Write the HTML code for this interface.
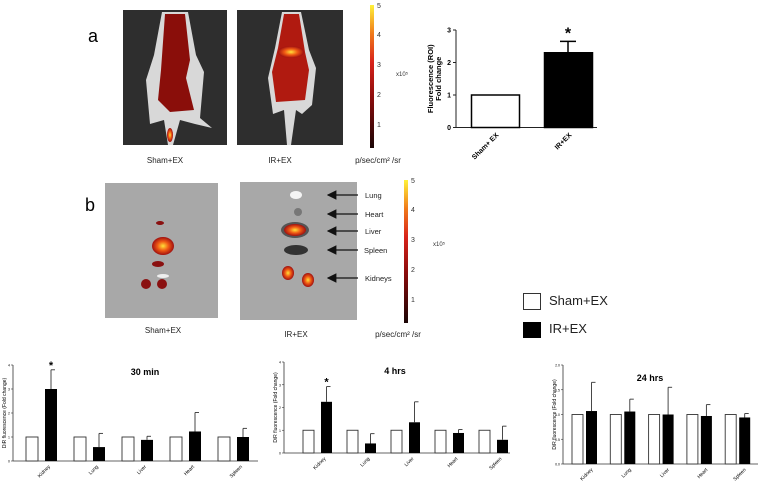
<!DOCTYPE html>
<html><head><meta charset="utf-8"><style>
html,body{margin:0;padding:0;background:#fff;}
svg{display:block;font-family:"Liberation Sans",sans-serif;}
</style></head><body>
<svg id="fig" width="760" height="488" viewBox="0 0 760 488" xmlns="http://www.w3.org/2000/svg">
<defs>
<linearGradient id="cbar" x1="0" y1="1" x2="0" y2="0">
<stop offset="0" stop-color="#1a0505"/><stop offset="0.35" stop-color="#8a0c0c"/><stop offset="0.6" stop-color="#d8231a"/><stop offset="0.8" stop-color="#f07a1a"/><stop offset="1" stop-color="#fff23a"/></linearGradient>
<radialGradient id="hot"><stop offset="0" stop-color="#ffe23a"/><stop offset="0.5" stop-color="#f05a14"/><stop offset="1" stop-color="#a01010"/></radialGradient>
<marker id="ah" markerWidth="8" markerHeight="8" refX="1" refY="4" orient="auto"><path d="M8 0 L0 4 L8 8 Z" fill="#111"/></marker>
</defs>
<text x="88" y="42" font-size="18">a</text>
<text x="85" y="211" font-size="18">b</text>

<g>
<rect x="123" y="10" width="104" height="135" fill="#2e2e2e"/>
<path d="M162 12 L188 12 L196 55 L204 72 L200 118 L212 128 L195 124 L180 120 L173 145 L168 145 L164 120 L150 124 L146 80 L154 55 Z" fill="#d8d8d8"/>
<path d="M165 14 L185 14 L190 60 L186 78 L194 110 L170 112 L158 100 L161 70 Z" fill="#8a0e0a"/>
<ellipse cx="170" cy="135" rx="3" ry="7" fill="url(#hot)"/>
</g>
<g>
<rect x="237" y="10" width="106" height="135" fill="#2e2e2e"/>
<path d="M282 12 L301 12 L309 50 L316 68 L312 105 L302 114 L296 110 L291 145 L287 145 L284 110 L273 114 L268 78 L275 48 Z" fill="#d8d8d8"/>
<path d="M284 14 L299 14 L305 52 L309 70 L305 100 L276 102 L272 72 L278 48 Z" fill="#b01a10"/>
<ellipse cx="291" cy="52" rx="13" ry="6" fill="url(#hot)"/>
</g>
<rect x="370" y="5" width="4" height="143" fill="url(#cbar)"/>
<g font-size="7" fill="#333">
<text x="377" y="8">5</text><text x="377" y="37">4</text><text x="377" y="67">3</text><text x="377" y="97">2</text><text x="377" y="127">1</text>
<text x="396" y="76" font-size="6">x10⁵</text></g>
<g font-size="8" fill="#222" text-anchor="middle">
<text x="165" y="163">Sham+EX</text>
<text x="280" y="163">IR+EX</text>
<text x="378" y="163">p/sec/cm² /sr</text>
</g>

<g>
<rect x="105" y="183" width="113" height="135" fill="#a8a8a8"/>
<ellipse cx="163" cy="246" rx="11" ry="9" fill="url(#hot)"/>
<ellipse cx="160" cy="223" rx="4" ry="2" fill="#8a1010"/>
<ellipse cx="163" cy="276" rx="6" ry="2" fill="#eee"/>
<ellipse cx="146" cy="284" rx="5" ry="5" fill="#8a1010"/>
<ellipse cx="162" cy="284" rx="5" ry="5" fill="#8a1010"/>
<ellipse cx="158" cy="264" rx="6" ry="3" fill="#8a1010"/>
</g>
<g>
<rect x="240" y="182" width="117" height="138" fill="#a8a8a8"/>
<ellipse cx="296" cy="195" rx="6" ry="4" fill="#f4f4f4"/>
<ellipse cx="298" cy="212" rx="4" ry="4" fill="#777"/>
<ellipse cx="295" cy="230" rx="14" ry="8" fill="#555"/>
<ellipse cx="295" cy="230" rx="11" ry="6" fill="url(#hot)"/>
<ellipse cx="296" cy="250" rx="12" ry="5" fill="#333"/>
<ellipse cx="288" cy="273" rx="6" ry="7" fill="url(#hot)"/>
<ellipse cx="308" cy="280" rx="6" ry="7" fill="url(#hot)"/>
</g>
<g stroke="#111" stroke-width="1.2" fill="none">
<line x1="328" y1="195" x2="358" y2="195" marker-start="url(#ah)"/>
<line x1="328" y1="214" x2="358" y2="214" marker-start="url(#ah)"/>
<line x1="328" y1="231" x2="358" y2="231" marker-start="url(#ah)"/>
<line x1="328" y1="250" x2="358" y2="250" marker-start="url(#ah)"/>
<line x1="328" y1="278" x2="358" y2="278" marker-start="url(#ah)"/>
</g>
<g font-size="7.5" fill="#222">
<text x="365" y="198">Lung</text>
<text x="365" y="217">Heart</text>
<text x="365" y="234">Liver</text>
<text x="364" y="253">Spleen</text>
<text x="365" y="281">Kidneys</text>
</g>
<rect x="404" y="180" width="4" height="143" fill="url(#cbar)"/>
<g font-size="7" fill="#333">
<text x="411" y="183">5</text><text x="411" y="212">4</text><text x="411" y="242">3</text><text x="411" y="272">2</text><text x="411" y="302">1</text>
<text x="433" y="246" font-size="6">x10⁵</text></g>
<g font-size="8" fill="#222" text-anchor="middle">
<text x="163" y="333">Sham+EX</text>
<text x="296" y="337">IR+EX</text>
<text x="398" y="337">p/sec/cm² /sr</text>
</g>

<rect x="523.5" y="293.5" width="17" height="16" fill="#fff" stroke="#333"/>
<text x="549" y="305" font-size="13" fill="#222">Sham+EX</text>
<rect x="523" y="322" width="18" height="16" fill="#000"/>
<text x="549" y="333" font-size="13" fill="#222">IR+EX</text>

<g id="charts"></g>
</svg>
<script>
// Panel a bar chart data
const aCats = ["Sham+ EX", "IR+EX"];
const aVals = [1.0, 2.3];
const aErr = [0, 2.65];
const aTicks = [0, 1, 2, 3];
// Panel c charts data
const organs = ["Kidney", "Lung", "Liver", "Heart", "Spleen"];
const sham30 = [1, 1, 1, 1, 1];
const ir30 = [3.0, 0.58, 0.88, 1.23, 1.0];
const ir30Err = [3.8, 1.15, 1.03, 2.02, 1.36];
const ticks30 = [0, 1, 2, 3, 4];
const sham4 = [1, 1, 1, 1, 1];
const ir4 = [2.25, 0.42, 1.35, 0.88, 0.58];
const ir4Err = [2.92, 0.85, 2.25, 1.03, 1.18];
const ticks4 = [0, 1, 2, 3, 4];
const sham24 = [1, 1, 1, 1, 1];
const ir24 = [1.07, 1.06, 1.0, 0.97, 0.94];
const ir24Err = [1.65, 1.31, 1.55, 1.2, 1.02];
const ticks24 = ["0.0", "0.5", "1.0", "1.5", "2.0"];

const NS = "http://www.w3.org/2000/svg";
const root = document.getElementById("charts");
function mk(tag, attrs, parent) {
  const e = document.createElementNS(NS, tag);
  for (const k in attrs) e.setAttribute(k, attrs[k]);
  (parent || root).appendChild(e);
  return e;
}

(function(){
  const g = mk("g", {});
  
  
  const ax = 456, y0 = 127.5, unit = 32.5, xEnd = 597;
  const y = v => y0 - v * unit;
  const bx = [471, 544], bw = 48;
  mk("line", {x1: ax, y1: y(3), x2: ax, y2: y0, stroke: "#222"}, g);
  mk("line", {x1: ax, y1: y0, x2: xEnd, y2: y0, stroke: "#222"}, g);
  aTicks.forEach(t => {
    mk("line", {x1: ax - 3, y1: y(t), x2: ax, y2: y(t), stroke: "#222"}, g);
    const tx = mk("text", {x: ax - 5, y: y(t) + 2.5, "font-size": 7, "text-anchor": "end", "font-weight": "bold"}, g);
    tx.textContent = t;
  });
  aVals.forEach((v, i) => {
    const r = mk("rect", {x: bx[i] + 0.5, y: y(v), width: bw, height: y0 - y(v), fill: i ? "#000" : "#fff", stroke: "#000", "stroke-width": 1.5}, g);
    
    
    if (aErr[i] > v) {
      const cx = bx[i] + bw / 2;
      mk("line", {x1: cx, y1: y(aErr[i]), x2: cx, y2: y(v), stroke: "#000", "stroke-width": 1.5}, g);
      mk("line", {x1: cx - 8, y1: y(aErr[i]), x2: cx + 8, y2: y(aErr[i]), stroke: "#000", "stroke-width": 1.5}, g);
      const s = mk("text", {x: cx, y: y(aErr[i]) - 3, "font-size": 16, "text-anchor": "middle", "font-weight": "bold"}, g);
      s.textContent = "*";
      
      
    }
    const cx = bx[i] + bw / 2;
    const l = mk("text", {x: cx + 4, y: y0 + 8, "font-size": 7, "font-weight": "bold", "text-anchor": "end", transform: `rotate(-45 ${cx + 4} ${y0 + 8})`}, g);
    l.textContent = aCats[i];
    
    
  });
  const t1 = mk("text", {x: 0, y: 0, "font-size": 7.5, "font-weight": "bold", "text-anchor": "middle", transform: `translate(433 ${y(1.5)}) rotate(-90)`}, g);
  t1.textContent = "Fluorescence (ROI)";
  
  
  const t2 = mk("text", {x: 0, y: 0, "font-size": 7.5, "font-weight": "bold", "text-anchor": "middle", transform: `translate(441 ${y(1.5)}) rotate(-90)`}, g);
  t2.textContent = "Fold change";
  
  
})();

function organChart(cfg, shamV, irV, irE, ticks, name) {
  const g = mk("g", {});
  
  
  const max = parseFloat(ticks[ticks.length - 1]);
  const y = v => cfg.y0 - v / max * cfg.h;
  mk("line", {x1: cfg.ax, y1: y(max), x2: cfg.ax, y2: cfg.y0, stroke: "#333", "stroke-width": 0.8}, g);
  mk("line", {x1: cfg.ax, y1: cfg.y0, x2: cfg.xEnd, y2: cfg.y0, stroke: "#333", "stroke-width": 0.8}, g);
  ticks.forEach(t => {
    const v = parseFloat(t);
    mk("line", {x1: cfg.ax - 2, y1: y(v), x2: cfg.ax, y2: y(v), stroke: "#333", "stroke-width": 0.6}, g);
    const tx = mk("text", {x: cfg.ax - 3, y: y(v) + 1.5, "font-size": 3.5, "text-anchor": "end"}, g);
    tx.textContent = t;
  });
  organs.forEach((o, i) => {
    const wx = cfg.x1 + i * cfg.step, bx = wx + cfg.gap;
    const r1 = mk("rect", {x: wx, y: y(shamV[i]), width: cfg.bw, height: cfg.y0 - y(shamV[i]), fill: "#fff", stroke: "#333", "stroke-width": 0.9}, g);
    
    
    const r2 = mk("rect", {x: bx, y: y(irV[i]), width: cfg.bw, height: cfg.y0 - y(irV[i]), fill: "#000"}, g);
    
    
    const cx = bx + cfg.bw / 2;
    mk("line", {x1: cx, y1: y(irE[i]), x2: cx, y2: y(irV[i]), stroke: "#333", "stroke-width": 0.9}, g);
    mk("line", {x1: cx, y1: y(irE[i]), x2: cx + 4, y2: y(irE[i]), stroke: "#333", "stroke-width": 0.9}, g);
    if (cfg.star && i === 0) {
      const s = mk("text", {x: cx, y: y(irE[i]) - 1, "font-size": 11, "text-anchor": "middle", "font-weight": "bold"}, g);
      s.textContent = "*";
      
      
    }
    const lx = wx + cfg.bw + cfg.gap / 2 - 1;
    const l = mk("text", {x: lx + 4, y: cfg.y0 + 6, "font-size": 5, "text-anchor": "end", transform: `rotate(-45 ${lx + 4} ${cfg.y0 + 6})`}, g);
    l.textContent = o;
    
    
  });
  const tt = mk("text", {x: cfg.tx, y: cfg.ty, "font-size": 9, "font-weight": "bold", "text-anchor": "middle"}, g);
  tt.textContent = cfg.title;
  
  
  const yt = mk("text", {x: 0, y: 0, "font-size": 5, "text-anchor": "middle", transform: `translate(${cfg.ax - 7} ${cfg.y0 - cfg.h / 2}) rotate(-90)`}, g);
  yt.textContent = "DiR fluorescence (Fold change)";
  
  
}
organChart({ax: 13, y0: 461, h: 96, xEnd: 258, x1: 26, step: 48, bw: 12, gap: 19, title: "30 min", tx: 145, ty: 375, star: true}, sham30, ir30, ir30Err, ticks30, "chart-30-min");
organChart({ax: 284, y0: 453, h: 91, xEnd: 510, x1: 303, step: 44, bw: 11, gap: 18, title: "4 hrs", tx: 395, ty: 374, star: true}, sham4, ir4, ir4Err, ticks4, "chart-4-hrs");
organChart({ax: 563, y0: 464, h: 99, xEnd: 758, x1: 572, step: 38.3, bw: 11, gap: 14, title: "24 hrs", tx: 650, ty: 381, star: false}, sham24, ir24, ir24Err, ticks24, "chart-24-hrs");
</script>
</body></html>
